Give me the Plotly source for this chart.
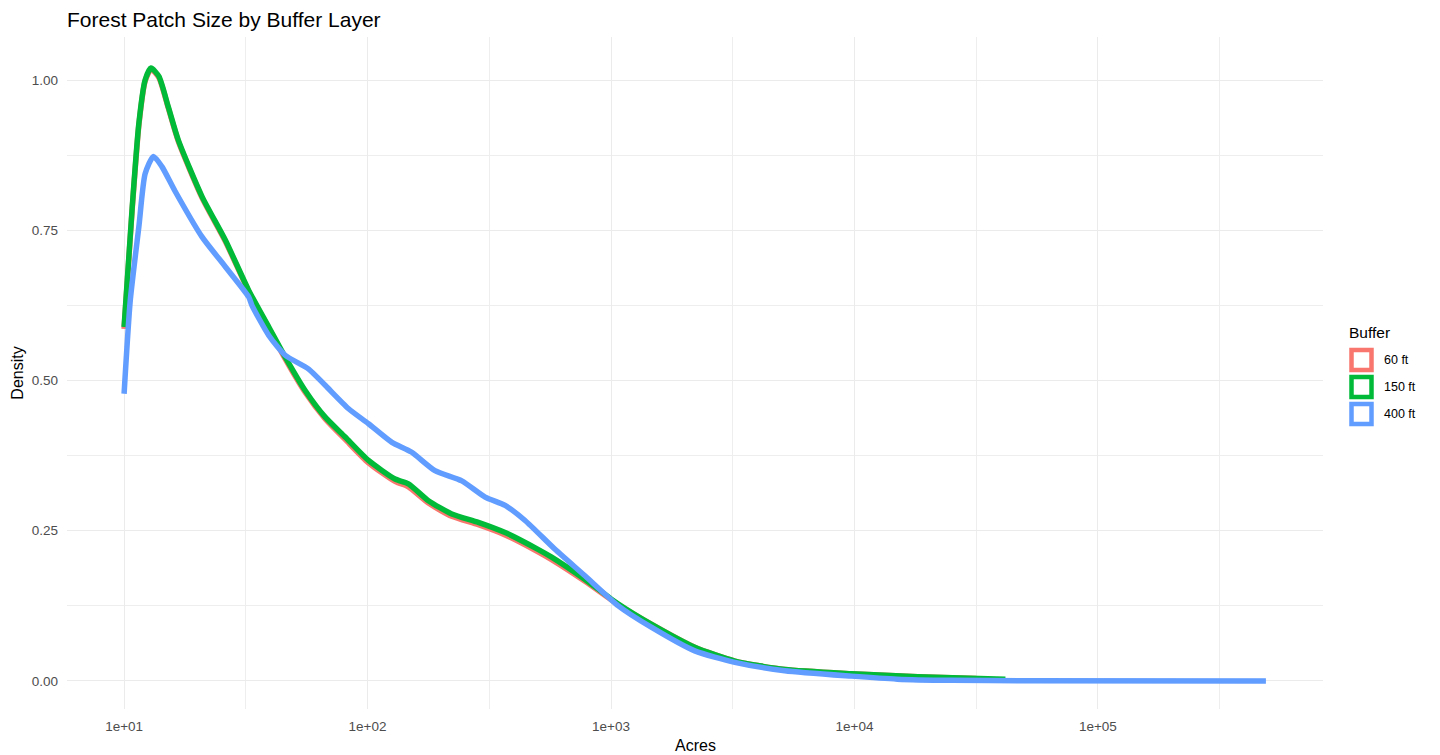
import plotly.graph_objects as go

# ---- data ----
buffers = ["60 ft", "150 ft", "400 ft"]
colors = ["#F8766D", "#00BA38", "#619CFF"]

acres_60 = [10, 10.8, 11.5, 12.2, 12.9, 13.9, 15.2, 16.7, 20.9, 26.1, 32.5, 39.3, 45.9,
            55.5, 67.0, 80.9, 100.9, 129.7, 147.2, 177.8, 221.8, 285.1, 367.3, 501.2,
            570.2, 781.6, 1071.5, 1468.9, 2208, 3228, 5176, 9705, 18197, 31623]
dens_60 = [0.586, 0.786, 0.925, 0.998, 1.018, 1.004, 0.953, 0.898, 0.804, 0.731, 0.648,
           0.587, 0.536, 0.480, 0.436, 0.402, 0.363, 0.332, 0.323, 0.296, 0.274, 0.260,
           0.243, 0.215, 0.202, 0.166, 0.127, 0.094, 0.056, 0.033, 0.019, 0.012, 0.007, 0.004]

acres_150 = [10, 10.8, 11.5, 12.2, 12.9, 13.9, 15.2, 16.7, 20.9, 26.1, 32.5, 39.3, 45.9,
             55.5, 67.0, 80.9, 100.9, 129.7, 147.2, 177.8, 221.8, 285.1, 367.3, 501.2,
             570.2, 781.6, 1071.5, 1468.9, 2208, 3228, 5176, 9705, 18197, 41687]
dens_150 = [0.589, 0.789, 0.928, 1.000, 1.020, 1.006, 0.955, 0.900, 0.806, 0.733, 0.650,
            0.589, 0.539, 0.483, 0.439, 0.406, 0.367, 0.336, 0.328, 0.300, 0.278, 0.264,
            0.247, 0.219, 0.206, 0.169, 0.128, 0.094, 0.056, 0.033, 0.019, 0.012, 0.007, 0.003]

acres_400 = [10, 10.6, 11.5, 12.2, 13.2, 14.3, 16.2, 20.9, 26.1, 32.5, 33.5, 39.3, 45.9,
             57.3, 67.0, 83.6, 100.9, 125.9, 151.4, 189.2, 243.8, 304.1, 367.3, 443.6,
             588.8, 781.6, 1071.5, 1468.9, 2208, 3228, 5176, 9705, 15000, 25000, 50000, 489779]
dens_400 = [0.478, 0.633, 0.756, 0.844, 0.873, 0.856, 0.815, 0.739, 0.689, 0.639, 0.625,
            0.575, 0.542, 0.519, 0.492, 0.453, 0.428, 0.397, 0.381, 0.350, 0.333, 0.306,
            0.292, 0.267, 0.219, 0.175, 0.125, 0.089, 0.050, 0.031, 0.017, 0.008, 0.003,
            0.001, 0.0003, 0.0]

x_tickvals = [10, 100, 1000, 10000, 100000]
x_ticktext = ["1e+01", "1e+02", "1e+03", "1e+04", "1e+05"]
x_minor = [31.62, 316.2, 3162, 31623, 316228]
y_tickvals = [0, 0.25, 0.5, 0.75, 1.0]
y_ticktext = ["0.00", "0.25", "0.50", "0.75", "1.00"]
y_minor = [0.125, 0.375, 0.625, 0.875]

series_x = [acres_60, acres_150, acres_400]
series_y = [dens_60, dens_150, dens_400]

FONT = "Liberation Sans, Arial, sans-serif"

# plot-area geometry (pixels) used to place the ggplot-style legend
W, H = 1440, 755
ML, MR, MT, MB = 67, 117, 37, 46
PW, PH = W - ML - MR, H - MT - MB


def px2paper_x(px):
    return (px - ML) / PW


def px2paper_y(py):
    return (H - MB - py) / PH


fig = go.Figure()
for name, col, xs, ys in zip(buffers, colors, series_x, series_y):
    fig.add_trace(go.Scatter(x=xs, y=ys, mode="lines", name=name, showlegend=False,
                             line=dict(color=col, width=5.5, shape="spline", smoothing=0.6)))

# ggplot-style legend: outlined square keys + labels
legend_shapes = []
legend_annots = [dict(text="Buffer", xref="paper", yref="paper", x=px2paper_x(1347),
                      y=px2paper_y(332), xanchor="left", yanchor="middle", showarrow=False,
                      font=dict(size=15.5, color="#000000"))]
key_centers = [360, 387, 414]
for name, col, cy in zip(buffers, colors, key_centers):
    legend_shapes.append(dict(type="rect", xref="paper", yref="paper",
                              x0=px2paper_x(1351.5), x1=px2paper_x(1371.5),
                              y0=px2paper_y(cy + 10), y1=px2paper_y(cy - 10),
                              line=dict(color=col, width=4.5), fillcolor="rgba(0,0,0,0)"))
    legend_annots.append(dict(text=name, xref="paper", yref="paper", x=px2paper_x(1382),
                              y=px2paper_y(cy), xanchor="left", yanchor="middle",
                              showarrow=False, font=dict(size=12.5, color="#000000")))
# x-axis title placed like ggplot's (just under the tick labels)
legend_annots.append(dict(text="Acres", xref="paper", yref="paper", x=0.5,
                          y=px2paper_y(745), xanchor="center", yanchor="middle",
                          showarrow=False, font=dict(size=16, color="#000000")))

fig.update_layout(
    width=W, height=H,
    paper_bgcolor="white", plot_bgcolor="white",
    margin=dict(l=ML, r=MR, t=MT, b=MB),
    font=dict(family=FONT, color="#000000"),
    title=dict(text="Forest Patch Size by Buffer Layer", x=ML / W, xanchor="left",
               y=1 - 20 / H, yanchor="middle", font=dict(size=21, color="#000000")),
    showlegend=False,
    shapes=legend_shapes,
    annotations=legend_annots,
)
fig.update_xaxes(type="log", range=[0.7655, 5.9245], tickvals=x_tickvals, ticktext=x_ticktext,
                 automargin=False,
                 showgrid=True, gridcolor="#EBEBEB", gridwidth=1, zeroline=False, showline=False,
                 ticks="", tickfont=dict(size=13.5, color="#4D4D4D"), ticklabelstandoff=7,
                 minor=dict(tickvals=x_minor, showgrid=True, gridcolor="#EEEEEE", gridwidth=1))
fig.update_yaxes(range=[-0.0467, 1.0717], tickvals=y_tickvals, ticktext=y_ticktext,
                 automargin=False,
                 showgrid=True, gridcolor="#EBEBEB", gridwidth=1, zeroline=False, showline=False,
                 ticks="", tickfont=dict(size=13.5, color="#4D4D4D"), ticklabelstandoff=8,
                 minor=dict(tickvals=y_minor, showgrid=True, gridcolor="#EEEEEE", gridwidth=1),
                 title=dict(text="Density", font=dict(size=16, color="#000000"), standoff=4))

fig.write_html("out.html", config={"displayModeBar": False},
               post_script="document.body.style.margin='0';")
